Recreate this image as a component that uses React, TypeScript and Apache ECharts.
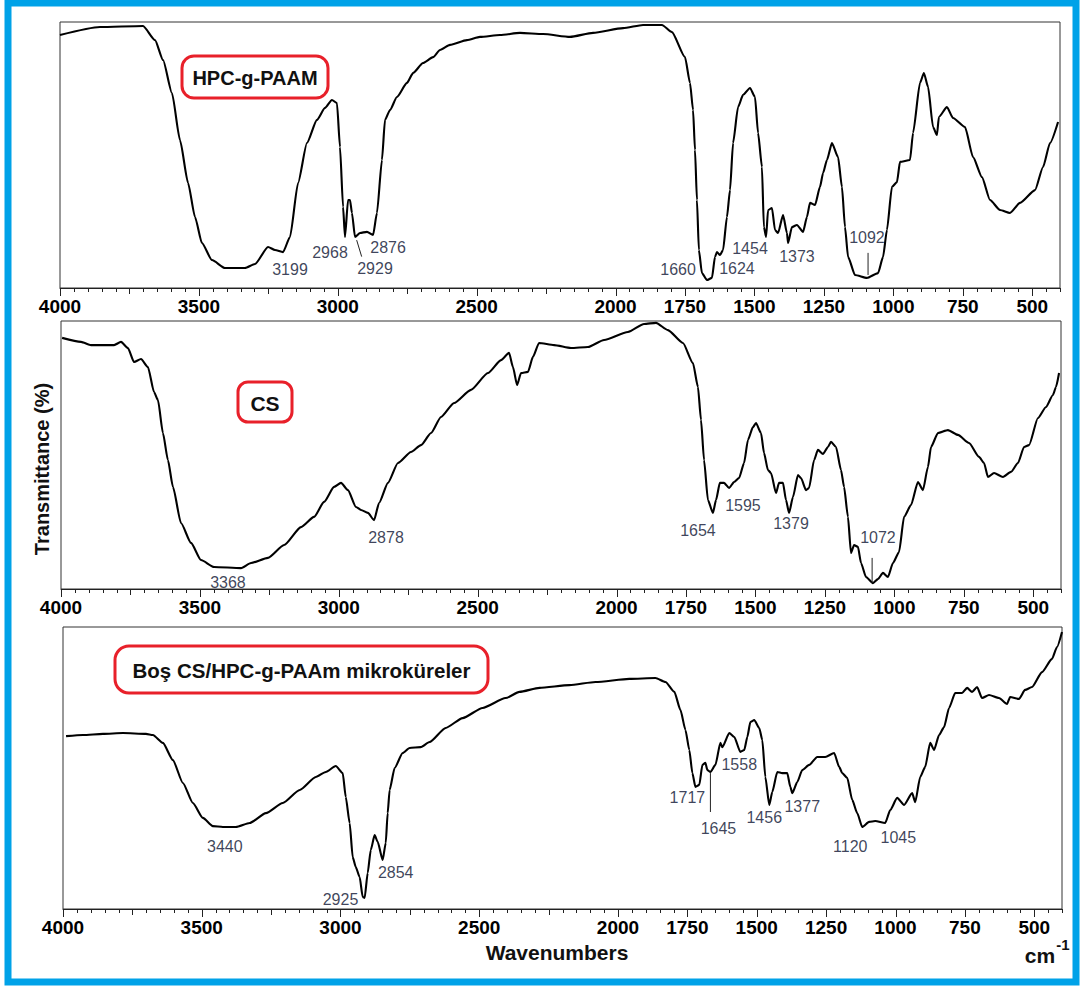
import React, { useEffect, useRef } from "react";
import * as echarts from "echarts";

// ---------- axis ticks / labels ----------
const tickLabels = [4000, 3500, 3000, 2500, 2000, 1750, 1500, 1250, 1000, 750, 500];
const mediumTicks = [3750, 3250, 2750, 2250];
const minorStep = 50;

// ---------- spectra: [wavenumber cm-1, transmittance %] ----------
const hpcSpectrum: [number, number][] = [
  [4000, 95.1], [3856, 98.1], [3701, 98.5], [3658, 93.2], [3629, 85.7], [3597, 73.3], [3568, 55.6],
  [3539, 39.5], [3514, 26.7], [3489, 16.9], [3453, 10.5], [3406, 7.5], [3334, 7.5], [3298, 9.0],
  [3251, 15.4], [3226, 14.3], [3197, 13.5], [3172, 19.2], [3143, 39.5], [3111, 54.5], [3075, 63.2],
  [3046, 67.7], [3021, 70.7], [3003, 69.5], [2992, 53.0], [2981, 30.5], [2974, 19.2], [2963, 33.1],
  [2956, 33.1], [2949, 28.2], [2938, 19.2], [2920, 20.7], [2895, 21.1], [2873, 19.9], [2859, 28.2],
  [2841, 48.1], [2830, 63.2], [2812, 66.9], [2787, 71.8], [2751, 77.1], [2729, 80.8], [2693, 84.6],
  [2657, 86.8], [2632, 89.5], [2596, 91.4], [2535, 93.2], [2488, 94.4], [2416, 95.1], [2344, 95.9],
  [2261, 95.5], [2164, 94.4], [2081, 95.9], [1973, 97.7], [1901, 98.9], [1833, 98.9], [1797, 96.2],
  [1750, 86.8], [1732, 77.1], [1721, 66.9], [1714, 51.9], [1707, 33.1], [1700, 14.3], [1689, 5.6],
  [1671, 3.0], [1653, 3.8], [1642, 11.7], [1635, 13.5], [1624, 12.4], [1613, 14.3], [1599, 26.7],
  [1588, 36.8], [1577, 54.5], [1559, 68.0], [1541, 72.6], [1516, 75.2], [1498, 71.8], [1487, 58.3],
  [1473, 45.5], [1466, 22.9], [1458, 19.2], [1451, 29.3], [1437, 30.1], [1426, 21.8], [1415, 20.7],
  [1397, 27.4], [1383, 20.7], [1379, 16.9], [1365, 22.9], [1347, 23.7], [1325, 21.1], [1311, 26.7],
  [1300, 32.0], [1282, 31.2], [1264, 38.0], [1253, 43.2], [1239, 48.1], [1221, 54.5], [1199, 49.2],
  [1185, 38.0], [1174, 22.9], [1163, 11.7], [1138, 4.9], [1095, 3.8], [1055, 5.6], [1037, 11.7],
  [1023, 21.8], [1005, 38.0], [987, 39.8], [976, 47.4], [940, 48.1], [929, 58.3], [904, 77.1],
  [890, 80.8], [875, 75.6], [857, 60.5], [843, 57.5], [836, 64.3], [807, 68.0], [785, 63.9],
  [742, 60.5], [713, 49.2], [681, 41.7], [652, 33.1], [616, 29.3], [580, 28.2], [544, 32.0],
  [490, 36.8], [461, 45.5], [436, 54.5], [407, 62.4],
];

const csSpectrum: [number, number][] = [
  [3996, 93.7], [3928, 92.2], [3892, 91.0], [3809, 91.0], [3784, 92.2], [3759, 89.9], [3737, 84.7],
  [3712, 85.8], [3687, 82.8], [3665, 73.5], [3651, 70.5], [3633, 58.2], [3615, 48.1], [3597, 38.1],
  [3568, 24.6], [3532, 17.2], [3496, 10.8], [3449, 8.2], [3352, 7.8], [3316, 9.7], [3255, 11.6],
  [3197, 16.4], [3136, 23.1], [3089, 26.9], [3053, 32.5], [3017, 38.1], [2992, 39.6], [2967, 36.9],
  [2938, 30.6], [2920, 29.5], [2895, 28.4], [2873, 25.7], [2855, 32.1], [2823, 39.6], [2787, 47.0],
  [2740, 51.1], [2704, 53.7], [2668, 58.2], [2632, 64.2], [2585, 69.4], [2524, 74.3], [2463, 80.6],
  [2416, 85.4], [2387, 88.1], [2373, 82.8], [2358, 76.1], [2344, 80.6], [2319, 81.0], [2301, 86.6],
  [2279, 91.8], [2225, 91.0], [2164, 89.9], [2103, 90.3], [2045, 92.9], [1959, 95.9], [1901, 98.9],
  [1858, 99.3], [1815, 96.6], [1761, 91.8], [1725, 84.3], [1707, 75.4], [1696, 63.1], [1685, 48.1],
  [1671, 33.2], [1653, 28.4], [1642, 33.2], [1628, 39.6], [1613, 39.6], [1595, 37.7], [1577, 39.9],
  [1559, 41.4], [1541, 47.0], [1527, 55.6], [1509, 60.4], [1498, 61.9], [1480, 58.2], [1469, 50.7],
  [1455, 44.4], [1444, 43.3], [1426, 35.8], [1415, 39.6], [1401, 39.6], [1390, 33.2], [1379, 28.4],
  [1365, 34.3], [1347, 42.5], [1336, 41.4], [1318, 36.9], [1307, 37.7], [1289, 48.1], [1275, 51.9],
  [1257, 50.4], [1239, 53.0], [1228, 54.9], [1210, 53.0], [1192, 44.4], [1181, 38.1], [1167, 26.9],
  [1156, 13.4], [1145, 16.4], [1131, 15.7], [1120, 9.7], [1102, 4.5], [1077, 2.2], [1059, 3.7],
  [1041, 6.0], [1023, 4.5], [1005, 9.7], [983, 13.8], [965, 26.9], [940, 31.3], [915, 39.9],
  [897, 36.9], [879, 45.5], [868, 53.0], [843, 58.2], [807, 59.3], [771, 57.5], [731, 54.5],
  [695, 49.3], [677, 47.0], [663, 41.8], [641, 43.3], [609, 41.8], [580, 43.7], [555, 47.0],
  [533, 53.0], [515, 53.7], [483, 63.8], [454, 67.9], [429, 72.4], [418, 75.4], [407, 80.6],
];

const microSpectrum: [number, number][] = [
  [3989, 61.3], [3928, 61.7], [3856, 62.1], [3784, 62.4], [3701, 62.1], [3676, 61.7], [3640, 58.9],
  [3604, 52.8], [3568, 44.7], [3532, 37.6], [3496, 32.3], [3460, 29.4], [3424, 29.1], [3377, 29.1],
  [3327, 30.5], [3269, 34.0], [3208, 37.6], [3147, 42.2], [3089, 46.8], [3053, 48.6], [3017, 50.7],
  [2992, 48.2], [2981, 39.7], [2967, 30.5], [2956, 18.4], [2945, 14.9], [2931, 11.3], [2920, 4.3],
  [2913, 3.9], [2902, 12.8], [2891, 20.9], [2877, 26.2], [2866, 23.8], [2848, 17.4], [2837, 23.4],
  [2830, 34.0], [2823, 42.2], [2805, 50.0], [2776, 55.3], [2751, 57.1], [2711, 57.4], [2679, 59.2],
  [2621, 64.2], [2560, 67.7], [2488, 71.3], [2405, 74.8], [2355, 77.0], [2283, 78.4], [2175, 79.4],
  [2081, 80.5], [1959, 81.6], [1865, 81.9], [1829, 80.5], [1797, 77.0], [1775, 70.6], [1757, 63.5],
  [1743, 56.4], [1732, 48.2], [1721, 43.3], [1707, 44.0], [1696, 51.1], [1685, 51.8], [1678, 49.3],
  [1667, 48.6], [1649, 51.1], [1631, 58.9], [1624, 57.4], [1599, 62.4], [1581, 61.0], [1559, 55.7],
  [1545, 56.4], [1534, 61.0], [1523, 66.3], [1509, 67.0], [1491, 64.2], [1480, 59.9], [1469, 46.8],
  [1455, 36.9], [1444, 41.5], [1426, 48.6], [1408, 48.2], [1390, 48.2], [1379, 43.3], [1372, 41.1],
  [1354, 45.0], [1336, 49.3], [1311, 51.1], [1282, 53.9], [1253, 53.9], [1221, 55.3], [1203, 50.4],
  [1192, 48.2], [1174, 46.5], [1156, 38.7], [1138, 34.0], [1120, 29.1], [1095, 30.9], [1073, 31.2],
  [1037, 30.5], [1019, 35.1], [994, 39.4], [969, 36.9], [940, 41.1], [929, 37.9], [911, 46.8],
  [893, 50.4], [875, 58.9], [861, 56.4], [843, 61.7], [825, 64.5], [807, 71.3], [785, 76.6],
  [760, 76.6], [742, 78.4], [724, 77.0], [706, 78.7], [688, 74.8], [663, 75.9], [627, 74.8],
  [598, 72.7], [587, 75.2], [555, 74.5], [533, 77.7], [508, 78.7], [472, 84.0], [436, 88.7],
  [418, 92.9], [400, 98.2],
];

// ---------- peak annotations: [wavenumber, transmittance, text] ----------
const hpcPeaks: [number, number, string][] = [
  [3172, 6.8, "3199"], [3028, 13.5, "2968"], [2866, 7.5, "2929"], [2819, 15.4, "2876"],
  [1775, 6.8, "1660"], [1563, 7.5, "1624"], [1516, 15.0, "1454"], [1347, 11.7, "1373"],
  [1095, 18.8, "1092"],
];
const csPeaks: [number, number, string][] = [
  [3399, 2.6, "3368"], [2830, 19.4, "2878"], [1707, 22.0, "1654"], [1545, 31.3, "1595"],
  [1372, 24.3, "1379"], [1059, 19.4, "1072"],
];
const microPeaks: [number, number, string][] = [
  [3417, 22.3, "3440"], [3000, 3.5, "2925"], [2801, 12.8, "2854"], [1750, 39.4, "1717"],
  [1638, 28.7, "1645"], [1563, 51.4, "1558"], [1473, 32.6, "1456"], [1336, 36.2, "1377"],
  [1163, 22.3, "1120"], [990, 25.5, "1045"],
];

// leader lines: pairs of [wavenumber, transmittance]
const hpcLeaders: [number, number][][] = [
  [[2932, 18.0], [2914, 11.8]],
  [[1091, 13.2], [1091, 4.9]],
];
const csLeaders: [number, number][][] = [[[1080, 11.6], [1080, 2.2]]];
const microLeaders: [number, number][][] = [[[1667, 48.2], [1667, 34.4]]];

const panelTitles = ["HPC-g-PAAM", "CS", "Boş CS/HPC-g-PAAm mikroküreler"];

const FONT = '"Liberation Sans", Arial, Helvetica, sans-serif';

// all tick positions (every 50 cm-1 from 4000 down to 400)
const allTicks: number[] = [];
for (let v = 4000; v >= 400; v -= minorStep) allTicks.push(v);

export default function App() {
  const ref = useRef<HTMLDivElement>(null);

  useEffect(() => {
    if (!ref.current) return;
    const chart = echarts.init(ref.current, undefined, { renderer: "svg" });

    const grids = [
      { left: 60, top: 22, width: 1000, height: 266 },
      { left: 61, top: 321, width: 1000, height: 268 },
      { left: 63, top: 627, width: 999, height: 282 },
    ];
    const spectra = [hpcSpectrum, csSpectrum, microSpectrum];
    const peaks = [hpcPeaks, csPeaks, microPeaks];
    const leaders = [hpcLeaders, csLeaders, microLeaders];

    const xAxes: any[] = [];
    const yAxes: any[] = [];
    grids.forEach((_, i) => {
      xAxes.push({
        gridIndex: i,
        type: "value",
        position: "bottom",
        inverse: true,
        min: 400,
        max: 4000,
        splitLine: { show: false },
        axisLine: { show: true, onZero: false, lineStyle: { color: "#222", width: 1 } },
        axisTick: { show: false },
        axisLabel: {
          show: true,
          customValues: tickLabels,
          formatter: (v: number) => String(v),
          margin: 9,
          fontSize: 19,
          fontWeight: "bold",
          color: "#000",
          fontFamily: FONT,
        },
      });
      yAxes.push({ gridIndex: i, type: "value", min: 0, max: 100, show: false });
    });

    const series: any[] = [];
    spectra.forEach((d, i) => {
      // axis ticks, placed through the x scale
      series.push({
        type: "custom",
        xAxisIndex: i,
        yAxisIndex: i,
        clip: false,
        silent: true,
        data: allTicks.map((v) => [v, 0]),
        renderItem: (_p: any, api: any) => {
          const v = api.value(0);
          const pt = api.coord([v, 0]);
          const len = tickLabels.includes(v) ? 8 : mediumTicks.includes(v) ? 6 : 4;
          const x = Math.round(pt[0]) + 0.5;
          return {
            type: "line",
            shape: { x1: x, y1: pt[1], x2: x, y2: pt[1] + len },
            style: { stroke: "#222", lineWidth: 1 },
          };
        },
        z: 2,
      });
      series.push({
        type: "line",
        xAxisIndex: i,
        yAxisIndex: i,
        data: d,
        showSymbol: false,
        symbol: "none",
        smooth: 0.2,
        smoothMonotone: "x",
        lineStyle: { color: "#000", width: 2.1 },
        z: 3,
      });
      series.push({
        type: "scatter",
        xAxisIndex: i,
        yAxisIndex: i,
        data: peaks[i],
        symbolSize: 1,
        itemStyle: { color: "rgba(0,0,0,0)" },
        label: {
          show: true,
          position: "inside",
          formatter: (p: any) => p.value[2],
          color: "#0b1230",
          fontSize: 16,
          fontFamily: FONT,
        },
        z: 4,
      });
      leaders[i].forEach((seg) => {
        series.push({
          type: "line",
          xAxisIndex: i,
          yAxisIndex: i,
          data: seg,
          showSymbol: false,
          symbol: "none",
          lineStyle: { color: "#222", width: 1 },
          z: 4,
        });
      });
    });

    const boxes = [
      { x: 182, y: 56, w: 146, h: 42, r: 12, fs: 20 },
      { x: 238, y: 382, w: 54, h: 40, r: 10, fs: 21 },
      { x: 115, y: 646, w: 373, h: 47, r: 14, fs: 20.5 },
    ];

    const graphic: any[] = [
      {
        type: "rect",
        shape: { x: 8, y: 3, width: 1068, height: 979 },
        style: { fill: "none", stroke: "#00A2E8", lineWidth: 7 },
        silent: true,
      },
    ];
    boxes.forEach((b, i) => {
      graphic.push({
        type: "rect",
        shape: { x: b.x, y: b.y, width: b.w, height: b.h, r: b.r },
        style: { fill: "#fff", stroke: "#E8202A", lineWidth: 3 },
        z: 10,
      });
      graphic.push({
        type: "text",
        x: b.x + b.w / 2,
        y: b.y + b.h / 2 + 1,
        style: {
          text: panelTitles[i],
          fill: "#111",
          font: `bold ${b.fs}px ${FONT}`,
          align: "center",
          verticalAlign: "middle",
        },
        z: 11,
      });
    });
    graphic.push(
      {
        type: "text",
        x: 42,
        y: 469,
        rotation: Math.PI / 2,
        style: {
          text: "Transmittance (%)",
          fill: "#111",
          font: `bold 20px ${FONT}`,
          align: "center",
          verticalAlign: "middle",
        },
      },
      {
        type: "text",
        x: 557,
        y: 952,
        style: {
          text: "Wavenumbers",
          fill: "#111",
          font: `bold 21px ${FONT}`,
          align: "center",
          verticalAlign: "middle",
        },
      },
      {
        type: "text",
        x: 1040,
        y: 955,
        style: { text: "cm", fill: "#111", font: `bold 21px ${FONT}`, align: "center", verticalAlign: "middle" },
      },
      {
        type: "text",
        x: 1063,
        y: 944,
        style: { text: "-1", fill: "#111", font: `bold 15px ${FONT}`, align: "center", verticalAlign: "middle" },
      }
    );

    chart.setOption({
      animation: false,
      backgroundColor: "#fff",
      grid: grids.map((g) => ({
        ...g,
        show: true,
        borderColor: "#333",
        borderWidth: 1,
        backgroundColor: "transparent",
        containLabel: false,
      })),
      xAxis: xAxes,
      yAxis: yAxes,
      series,
      graphic,
    });

    return () => chart.dispose();
  }, []);

  return (
    <div
      ref={ref}
      style={{ position: "absolute", left: 0, top: 0, width: 1080, height: 988, background: "#fff" }}
    />
  );
}
